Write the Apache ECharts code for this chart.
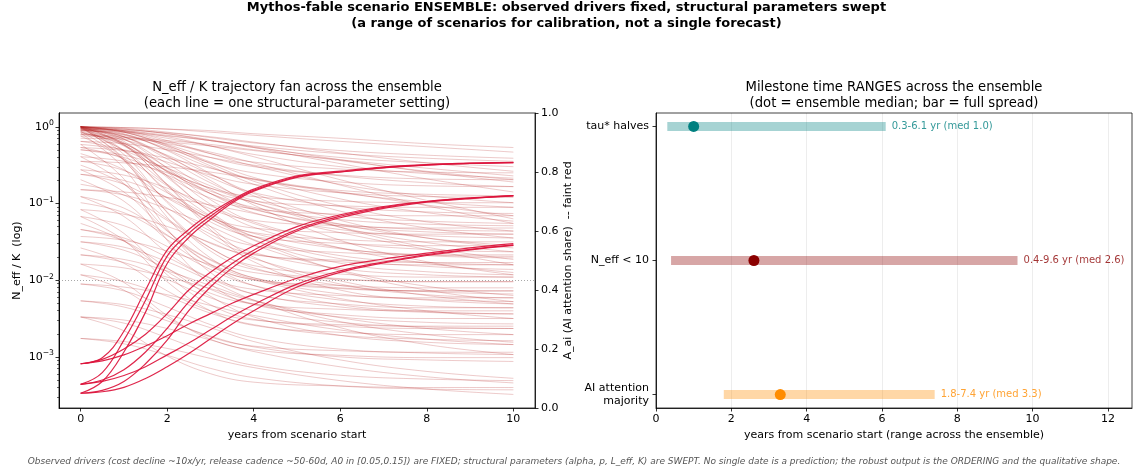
<!DOCTYPE html>
<html>
<head>
<meta charset="utf-8">
<script src="https://cdn.jsdelivr.net/npm/echarts@6/dist/echarts.min.js"></script>
<style>
  html, body { margin: 0; padding: 0; background: #fff; }
  #main { width: 1133px; height: 474px; }
</style>
</head>
<body>
<div id="main"></div>
<script>
// ---- data -------------------------------------------------------------
// sample years for the N_eff/K fan
const fanYears = [0, 1, 2, 3, 4, 6, 8, 10];
// log10(N_eff / K) for each structural-parameter setting, at fanYears
const neffLog10 = [
  [0,-0.01,-0.03,-0.05,-0.09,-0.15,-0.22,-0.27],
  [0,-0.02,-0.07,-0.14,-0.21,-0.31,-0.37,-0.41],
  [-0.02,-0.04,-0.08,-0.13,-0.2,-0.34,-0.47,-0.58],
  [0,-0.06,-0.2,-0.35,-0.46,-0.55,-0.59,-0.6],
  [-0.03,-0.06,-0.15,-0.25,-0.36,-0.52,-0.61,-0.67],
  [0,-0.07,-0.23,-0.4,-0.52,-0.63,-0.68,-0.69],
  [-0.05,-0.07,-0.12,-0.18,-0.26,-0.43,-0.59,-0.72],
  [0,-0.05,-0.18,-0.35,-0.51,-0.75,-0.9,-0.99],
  [-0.02,-0.13,-0.39,-0.66,-0.86,-1.04,-1.11,-1.13],
  [0,-0.23,-0.64,-0.93,-1.07,-1.14,-1.16,-1.16],
  [-0.04,-0.1,-0.25,-0.46,-0.66,-0.94,-1.12,-1.23],
  [0,-0.13,-0.42,-0.73,-0.96,-1.16,-1.23,-1.26],
  [-0.06,-0.31,-0.75,-1.07,-1.22,-1.29,-1.32,-1.32],
  [0,-0.07,-0.24,-0.48,-0.71,-1.03,-1.24,-1.36],
  [-0.08,-0.22,-0.53,-0.87,-1.12,-1.34,-1.42,-1.45],
  [-0.02,-0.32,-0.83,-1.2,-1.38,-1.47,-1.5,-1.5],
  [-0.1,-0.17,-0.37,-0.62,-0.87,-1.22,-1.45,-1.58],
  [0,-0.16,-0.54,-0.95,-1.24,-1.5,-1.6,-1.63],
  [-0.12,-0.43,-0.97,-1.36,-1.55,-1.64,-1.67,-1.67],
  [-0.04,-0.21,-0.59,-1.01,-1.31,-1.58,-1.68,-1.71],
  [0,-0.36,-0.99,-1.44,-1.66,-1.76,-1.8,-1.8],
  [-0.07,-0.25,-0.66,-1.11,-1.43,-1.72,-1.82,-1.86],
  [-0.01,-0.41,-1.12,-1.62,-1.86,-1.98,-2.02,-2.02],
  [0,-0.01,-0.03,-0.07,-0.11,-0.19,-0.26,-0.33],
  [-0.03,-0.05,-0.11,-0.18,-0.25,-0.35,-0.41,-0.45],
  [0,-0.03,-0.09,-0.17,-0.27,-0.48,-0.68,-0.85],
  [-0.01,-0.05,-0.13,-0.25,-0.39,-0.69,-0.96,-1.2],
  [0,-0.43,-1.18,-1.71,-1.97,-2.1,-2.14,-2.14],
  [-0.15,-0.16,-0.2,-0.25,-0.31,-0.43,-0.54,-0.64],
  [-0.19,-0.22,-0.3,-0.4,-0.5,-0.64,-0.73,-0.78],
  [-0.23,-0.3,-0.46,-0.63,-0.75,-0.86,-0.91,-0.92],
  [-0.27,-0.31,-0.41,-0.54,-0.68,-0.86,-0.98,-1.05],
  [-0.3,-0.4,-0.63,-0.87,-1.05,-1.21,-1.27,-1.29],
  [-0.35,-0.56,-0.93,-1.19,-1.32,-1.38,-1.4,-1.4],
  [-0.39,-0.45,-0.6,-0.8,-0.99,-1.27,-1.45,-1.55],
  [-0.45,-0.57,-0.86,-1.17,-1.39,-1.59,-1.67,-1.69],
  [-0.5,-0.75,-1.2,-1.52,-1.67,-1.74,-1.77,-1.77],
  [-0.56,-0.63,-0.8,-1.03,-1.26,-1.58,-1.78,-1.9],
  [-0.62,-0.75,-1.06,-1.4,-1.64,-1.85,-1.93,-1.96],
  [-0.69,-0.97,-1.47,-1.82,-1.99,-2.07,-2.1,-2.1],
  [-0.75,-0.89,-1.22,-1.58,-1.84,-2.07,-2.15,-2.18],
  [-0.82,-0.89,-1.07,-1.3,-1.54,-1.87,-2.08,-2.2],
  [-0.91,-1.17,-1.64,-1.97,-2.12,-2.2,-2.23,-2.23],
  [-0.99,-1.12,-1.42,-1.74,-1.97,-2.18,-2.25,-2.28],
  [-1.08,-1.14,-1.3,-1.51,-1.72,-2.01,-2.2,-2.31],
  [-1.17,-1.29,-1.56,-1.86,-2.07,-2.26,-2.34,-2.36],
  [-1.26,-1.49,-1.89,-2.17,-2.31,-2.38,-2.4,-2.4],
  [-1.34,-1.45,-1.7,-1.98,-2.18,-2.35,-2.42,-2.44],
  [-1.43,-1.48,-1.62,-1.8,-1.99,-2.24,-2.4,-2.5],
  [-1.5,-1.61,-1.85,-2.12,-2.31,-2.48,-2.55,-2.57],
  [-1.58,-1.78,-2.14,-2.4,-2.52,-2.58,-2.6,-2.6],
  [-1.67,-1.77,-1.99,-2.23,-2.4,-2.55,-2.61,-2.63],
  [-1.79,-1.84,-1.96,-2.11,-2.27,-2.49,-2.63,-2.71],
  [-1.93,-2.02,-2.21,-2.43,-2.58,-2.72,-2.77,-2.79],
  [-2.05,-2.09,-2.19,-2.33,-2.46,-2.65,-2.77,-2.84],
  [-2.27,-2.35,-2.53,-2.73,-2.87,-3,-3.04,-3.06],
  [-2.48,-2.56,-2.75,-2.96,-3.11,-3.24,-3.29,-3.31],
  [-2.76,-2.8,-2.89,-3.02,-3.14,-3.31,-3.42,-3.49],
  [-1.93,-2.13,-2.49,-2.74,-2.86,-2.92,-2.94,-2.94],
  [-2.05,-2.14,-2.35,-2.58,-2.75,-2.9,-2.95,-2.97],
  [-1.79,-2.03,-2.46,-2.77,-2.91,-2.98,-3.01,-3.01],
  [-2.27,-2.32,-2.45,-2.62,-2.8,-3.04,-3.19,-3.28],
  [-2.48,-2.52,-2.63,-2.78,-2.93,-3.13,-3.26,-3.34],
  [-2.76,-2.83,-2.98,-3.15,-3.27,-3.38,-3.42,-3.43],
  [-2.48,-2.66,-2.99,-3.22,-3.33,-3.38,-3.4,-3.4],
  [-1.67,-1.73,-1.88,-2.07,-2.26,-2.54,-2.71,-2.81],
  [0,-0.19,-0.64,-1.12,-1.47,-1.78,-1.89,-1.93],
  [-0.02,-0.24,-0.75,-1.3,-1.7,-2.05,-2.19,-2.23],
  [0,-0.07,-0.26,-0.51,-0.75,-1.1,-1.32,-1.45],
  [-0.05,-0.24,-0.57,-0.8,-0.91,-0.97,-0.99,-0.99],
  [0,-0.09,-0.31,-0.61,-0.9,-1.31,-1.57,-1.73],
  [-0.08,-0.54,-1.33,-1.9,-2.18,-2.31,-2.36,-2.36],
  [-0.1,-0.13,-0.22,-0.33,-0.47,-0.76,-1.03,-1.26],
  [-0.04,-0.11,-0.28,-0.47,-0.6,-0.72,-0.77,-0.78],
  [-0.3,-0.37,-0.54,-0.77,-0.99,-1.31,-1.51,-1.63],
  [-0.56,-0.85,-1.36,-1.73,-1.9,-1.99,-2.02,-2.02],
  [-0.45,-0.47,-0.52,-0.59,-0.68,-0.85,-1.02,-1.16],
  [-0.82,-0.85,-0.92,-1.02,-1.13,-1.38,-1.6,-1.8],
  [-1.08,-1.39,-1.93,-2.32,-2.51,-2.6,-2.63,-2.63],
  [0,-0.03,-0.09,-0.18,-0.27,-0.4,-0.47,-0.52],
  [-0.01,-0.1,-0.3,-0.53,-0.69,-0.83,-0.88,-0.9],
  [0,-0.21,-0.58,-0.84,-0.97,-1.03,-1.05,-1.05],
  [-0.02,-0.16,-0.48,-0.82,-1.07,-1.29,-1.37,-1.4],
  [0,-0.31,-0.85,-1.24,-1.43,-1.52,-1.55,-1.55],
  [-0.06,-0.44,-1.11,-1.58,-1.81,-1.92,-1.96,-1.96],
  [-0.19,-0.31,-0.58,-0.87,-1.08,-1.27,-1.34,-1.36],
  [-0.27,-0.42,-0.77,-1.16,-1.43,-1.68,-1.77,-1.8],
  [-0.39,-0.74,-1.35,-1.79,-2,-2.11,-2.14,-2.14],
  [-0.62,-0.7,-0.92,-1.2,-1.48,-1.88,-2.13,-2.28],
  [-0.91,-1.06,-1.41,-1.8,-2.07,-2.32,-2.41,-2.44],
  [-1.17,-1.48,-2.02,-2.4,-2.59,-2.68,-2.71,-2.71],
  [-1.34,-1.49,-1.84,-2.21,-2.48,-2.72,-2.81,-2.84],
  [-1.5,-1.57,-1.76,-2.01,-2.26,-2.62,-2.84,-2.97],
  [-0.12,-0.14,-0.18,-0.23,-0.3,-0.44,-0.58,-0.69],
  [0,-0.23,-0.76,-1.34,-1.76,-2.13,-2.26,-2.31],
  [-0.04,-0.13,-0.38,-0.7,-1.02,-1.48,-1.76,-1.93],
  [-0.23,-0.68,-1.48,-2.05,-2.32,-2.45,-2.5,-2.5]
];

// sample years for the AI attention share curves
const shareYears = [0, 0.5, 1, 1.5, 2, 2.5, 3, 3.5, 4, 5, 6, 7, 8, 9, 10];
// A_ai trajectories (three starting shares x three adoption speeds)
const aiShare = [
  [0.15,0.17,0.26,0.40,0.535,0.605,0.66,0.705,0.742,0.787,0.803,0.817,0.825,0.83,0.833],
  [0.08,0.12,0.23,0.365,0.515,0.592,0.65,0.7,0.738,0.784,0.8,0.815,0.824,0.829,0.832],
  [0.05,0.09,0.19,0.325,0.49,0.578,0.64,0.695,0.735,0.782,0.8,0.814,0.823,0.829,0.832],
  [0.15,0.165,0.2,0.25,0.32,0.4,0.46,0.51,0.55,0.615,0.655,0.683,0.7,0.712,0.72],
  [0.08,0.095,0.13,0.19,0.27,0.36,0.43,0.49,0.535,0.605,0.65,0.68,0.7,0.711,0.72],
  [0.05,0.06,0.09,0.15,0.23,0.33,0.41,0.475,0.525,0.6,0.645,0.677,0.698,0.71,0.719],
  [0.15,0.16,0.18,0.21,0.245,0.285,0.32,0.355,0.385,0.44,0.48,0.505,0.525,0.543,0.557],
  [0.08,0.09,0.11,0.14,0.18,0.22,0.265,0.31,0.35,0.42,0.465,0.495,0.52,0.538,0.553],
  [0.05,0.055,0.07,0.1,0.14,0.185,0.235,0.285,0.33,0.41,0.46,0.492,0.517,0.536,0.551]
];

// milestone ranges (years) across the ensemble
const milestones = ['tau* halves', 'N_eff < 10', 'AI attention\nmajority'];
const spreadLo  = [0.3, 0.4, 1.8];
const spreadHi  = [6.1, 9.6, 7.4];
const spreadMed = [1.0, 2.6, 3.3];

// tick labels
const fanTicks   = [0, 2, 4, 6, 8, 10];
const logTicks   = [1, 0.1, 0.01, 0.001];
const logMinor   = [0.0003,0.0004,0.0005,0.0006,0.0007,0.0008,0.0009,
                    0.002,0.003,0.004,0.005,0.006,0.007,0.008,0.009,
                    0.02,0.03,0.04,0.05,0.06,0.07,0.08,0.09,
                    0.2,0.3,0.4,0.5,0.6,0.7,0.8,0.9];
const shareTicks = [0, 0.2, 0.4, 0.6, 0.8, 1.0];
const rangeTicks = [0, 2, 4, 6, 8, 10, 12];

// ---- styling ------------------------------------------------------------
const FONT = 'DejaVu Sans';
const FAINT = 'rgba(178,34,34,0.24)';
const CRIMSON = 'rgba(220,20,60,0.92)';
const milestoneColor = ['#008080', '#8b0000', '#ff8c00'];
const milestoneBar = ['rgba(0,128,128,0.35)', 'rgba(139,0,0,0.35)', 'rgba(255,140,0,0.35)'];

const tickStyle = { show: true, length: 3.5, lineStyle: { color: '#000', width: 0.8 } };
const axisLine = { show: true, onZero: false, lineStyle: { color: '#000', width: 0.8 } };
const labelBase = { color: '#000', fontSize: 11, fontFamily: FONT };
const nameStyle = { color: '#000', fontSize: 11, fontFamily: FONT };

function supExp(v) {
  const e = Math.round(Math.log10(v));
  return e < 0 ? '\u2212' + (-e) : String(e);
}

const series = [];

// N_eff / K fan on the log axis
neffLog10.forEach((row, k) => {
  const s = {
    type: 'line', xAxisIndex: 0, yAxisIndex: 0,
    data: row.map((e, i) => [fanYears[i], Math.pow(10, e)]),
    smooth: 0.4, symbol: 'none', silent: true,
    lineStyle: { color: FAINT, width: 1 }, z: 2
  };
  if (k === 0) {
    // N_eff / K = 10^-2 reference level
    s.markLine = {
      symbol: 'none', silent: true, label: { show: false },
      lineStyle: { type: [1, 2], color: 'rgba(120,120,120,0.8)', width: 0.8 },
      data: [{ yAxis: 0.01 }]
    };
  }
  series.push(s);
});

// AI attention share on the right-hand axis
aiShare.forEach(row => {
  series.push({
    type: 'line', xAxisIndex: 0, yAxisIndex: 2,
    data: row.map((v, i) => [shareYears[i], v]),
    smooth: 0.4, symbol: 'none', silent: true,
    lineStyle: { color: CRIMSON, width: 1.2 }, z: 5
  });
});

// milestone spread bars, medians and range labels
milestones.forEach((m, i) => {
  series.push({
    type: 'line', xAxisIndex: 1, yAxisIndex: 3,
    data: [[spreadLo[i], i], [spreadHi[i], i]],
    symbol: 'none', silent: true,
    lineStyle: { color: milestoneBar[i], width: 9, cap: 'butt' }, z: 3
  });
  series.push({
    type: 'scatter', xAxisIndex: 1, yAxisIndex: 3,
    data: [[spreadMed[i], i]], symbolSize: 11, silent: true,
    itemStyle: { color: milestoneColor[i], opacity: 1 }, z: 6
  });
  series.push({
    type: 'scatter', xAxisIndex: 1, yAxisIndex: 3,
    data: [[spreadHi[i], i]], symbolSize: 0, silent: true,
    label: {
      show: true, position: 'right', distance: 6,
      formatter: () => spreadLo[i].toFixed(1) + '-' + spreadHi[i].toFixed(1) +
                       ' yr (med ' + spreadMed[i].toFixed(1) + ')',
      color: milestoneColor[i], fontSize: 10, fontFamily: FONT
    }, z: 6
  });
});

const option = {
  animation: false,
  backgroundColor: '#fff',
  textStyle: { fontFamily: FONT },
  grid: [
    { left: 59, top: 113, width: 476, height: 295, show: true, borderColor: '#111', borderWidth: 0.8, backgroundColor: 'transparent' },
    { left: 656, top: 113, width: 476, height: 295, show: true, borderColor: '#111', borderWidth: 0.8, backgroundColor: 'transparent' }
  ],
  xAxis: [
    {
      type: 'value', gridIndex: 0, min: -0.5, max: 10.5,
      axisLine: axisLine, splitLine: { show: false },
      axisTick: Object.assign({ customValues: fanTicks }, tickStyle),
      axisLabel: Object.assign({ customValues: fanTicks, margin: 6 }, labelBase),
      name: 'years from scenario start', nameLocation: 'middle', nameGap: 21,
      nameTextStyle: nameStyle
    },
    {
      type: 'value', gridIndex: 1, min: 0, max: 12.64, interval: 2,
      axisLine: axisLine,
      splitLine: { show: true, lineStyle: { color: 'rgba(0,0,0,0.09)', width: 0.8 } },
      axisTick: Object.assign({ customValues: rangeTicks }, tickStyle),
      axisLabel: Object.assign({ customValues: rangeTicks, margin: 6 }, labelBase),
      name: 'years from scenario start (range across the ensemble)', nameLocation: 'middle', nameGap: 21,
      nameTextStyle: nameStyle
    }
  ],
  yAxis: [
    {
      type: 'log', logBase: 10, gridIndex: 0, position: 'left',
      min: Math.pow(10, -3.667), max: Math.pow(10, 0.18),
      axisLine: axisLine, splitLine: { show: false }, minorTick: { show: false },
      axisTick: Object.assign({ customValues: logTicks }, tickStyle),
      axisLabel: {
        customValues: logTicks, margin: 5,
        formatter: v => '{b|10}{e|' + supExp(v) + '}',
        rich: {
          b: { fontSize: 11, fontFamily: FONT, color: '#000' },
          e: { fontSize: 7.7, fontFamily: FONT, color: '#000', padding: [0, 0, 7, 0] }
        }
      },
      name: 'N_eff / K  (log)', nameLocation: 'middle', nameGap: 36, nameRotate: 90,
      nameTextStyle: nameStyle
    },
    {
      // minor decade ticks for the log axis
      type: 'log', logBase: 10, gridIndex: 0, position: 'left',
      min: Math.pow(10, -3.667), max: Math.pow(10, 0.18),
      axisLine: axisLine, splitLine: { show: false }, axisLabel: { show: false },
      axisTick: { show: true, customValues: logMinor, length: 2, lineStyle: { color: '#000', width: 0.6 } }
    },
    {
      type: 'value', gridIndex: 0, position: 'right', min: 0, max: 1,
      axisLine: axisLine, splitLine: { show: false },
      axisTick: Object.assign({ customValues: shareTicks }, tickStyle),
      axisLabel: Object.assign({ customValues: shareTicks, margin: 6, formatter: v => v.toFixed(1) }, labelBase),
      name: 'A_ai (AI attention share)  -- faint red', nameLocation: 'middle', nameGap: 26, nameRotate: 90,
      nameTextStyle: nameStyle
    },
    {
      type: 'value', gridIndex: 1, min: -0.1, max: 2.1, inverse: true,
      axisLine: axisLine, splitLine: { show: false },
      axisTick: Object.assign({ customValues: [0, 1, 2] }, tickStyle),
      axisLabel: Object.assign({
        customValues: [0, 1, 2], margin: 7, align: 'right',
        formatter: v => milestones[Math.round(v)], lineHeight: 13
      }, labelBase)
    }
  ],
  graphic: [
    {
      type: 'text', left: 'center', top: 0,
      style: {
        text: 'Mythos-fable scenario ENSEMBLE: observed drivers fixed, structural parameters swept\n(a range of scenarios for calibration, not a single forecast)',
        font: 'bold 13px "DejaVu Sans"', fill: '#000', textAlign: 'center', lineHeight: 16
      }
    },
    {
      type: 'text', x: 297, y: 80,
      style: {
        text: 'N_eff / K trajectory fan across the ensemble\n(each line = one structural-parameter setting)',
        font: '13.2px "DejaVu Sans"', fill: '#000', textAlign: 'center', lineHeight: 16
      }
    },
    {
      type: 'text', x: 894, y: 80,
      style: {
        text: 'Milestone time RANGES across the ensemble\n(dot = ensemble median; bar = full spread)',
        font: '13.2px "DejaVu Sans"', fill: '#000', textAlign: 'center', lineHeight: 16
      }
    },
    {
      type: 'text', x: 574, y: 457,
      style: {
        text: 'Observed drivers (cost decline ~10x/yr, release cadence ~50-60d, A0 in [0.05,0.15]) are FIXED; structural parameters (alpha, p, L_eff, K) are SWEPT. No single date is a prediction; the robust output is the ORDERING and the qualitative shape.',
        font: 'italic 9px "DejaVu Sans"', fill: '#555', textAlign: 'center'
      }
    }
  ],
  series: series
};

const chart = echarts.init(document.getElementById('main'), null, { renderer: 'canvas' });
chart.setOption(option);
</script>
</body>
</html>
